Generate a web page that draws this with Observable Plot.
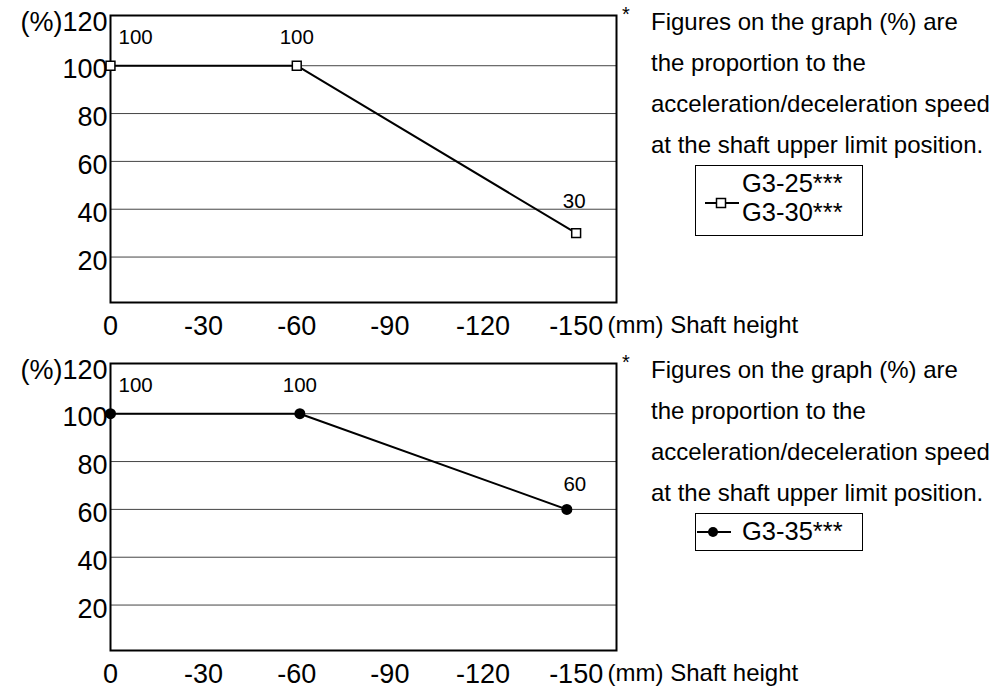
<!DOCTYPE html>
<html><head><meta charset="utf-8">
<script src="https://cdn.jsdelivr.net/npm/d3@7"></script>
<script src="https://cdn.jsdelivr.net/npm/@observablehq/plot@0.6"></script>
<style>
body{margin:0;background:#fff;font-family:"Liberation Sans",Arial,sans-serif;color:#000}
#root{position:relative;width:1001px;height:689px;overflow:hidden;background:#fff}
.panel{position:absolute;left:0;width:1001px;height:341px}
.panel svg.chart{position:absolute;left:0;top:0}
.note{position:absolute;left:651px;top:1px;font-size:24px;line-height:41px;white-space:nowrap}
.star{position:absolute;left:622px;top:-6px;font-size:20px;line-height:41px}
.legend{position:absolute;left:695px;top:165px;width:168px;border:1px solid #000;box-sizing:border-box;background:#fff}
.legend .sym{position:absolute}
.legend .txt{position:absolute;left:46px;font-size:25.5px;line-height:29px;white-space:nowrap}
</style></head>
<body><div id="root"></div>
<script>
// ---- data ----
const xTicks = [0, -30, -60, -90, -120, -150];
const yTicks = [20, 40, 60, 80, 100, 120];
const shaftTop = [0, -60, -150];
const accelTop = [100, 100, 30];
const shaftBottom = [0, -61, -147];
const accelBottom = [100, 100, 60];
const seriesTop = ["G3-25***", "G3-30***"];
const seriesBottom = ["G3-35***"];
const noteLines = ["Figures on the graph (%) are", "the proportion to the", "acceleration/deceleration speed", "at the shaft upper limit position."];
const xLabel = "(mm) Shaft height";

const FONT = '"Liberation Sans", Arial, sans-serif';

function makePlot(xs, ys, markerOpts, lastLabelOpts) {
  const data = xs.map((x, i) => ({x, y: ys[i], i}));
  const n = data.length;
  const lab = {x: "x", y: "y", text: d => String(d.y), fontSize: 20.5, fill: "#000"};
  const svg = Plot.plot({
    width: 1001, height: 341,
    marginLeft: 110, marginRight: 385, marginTop: 15, marginBottom: 39,
    x: {domain: [0, -163]},
    y: {domain: [1, 121]},
    style: {fontFamily: FONT, fontSize: "27px", color: "#000", background: "transparent", overflow: "visible"},
    marks: [
      Plot.ruleY(yTicks.filter(d => d < 120), {stroke: "#444", strokeWidth: 1}),
      Plot.frame({stroke: "#000", strokeWidth: 2}),
      Plot.axisX({ticks: xTicks, tickSize: 0, tickPadding: 13, tickFormat: d => String(d), label: null, fontSize: 27}),
      Plot.axisY({ticks: yTicks, tickSize: 0, tickPadding: 3, dy: 4, tickFormat: d => d === 120 ? "(%)" + d : String(d), label: null, fontSize: 27}),
      Plot.line(data, {x: "x", y: "y", stroke: "#000", strokeWidth: 2}),
      Plot.dot(data, {x: "x", y: "y", ...markerOpts}),
      Plot.text(data.filter(d => d.i === 0), {...lab, textAnchor: "start", dx: 8, dy: -28}),
      Plot.text(data.filter(d => d.i > 0 && d.i < n - 1), {...lab, textAnchor: "middle", dy: -28}),
      Plot.text(data.filter(d => d.i === n - 1), {...lab, ...lastLabelOpts}),
      Plot.text([xLabel], {text: d => d, frameAnchor: "bottom-right", lineAnchor: "middle", textAnchor: "start", dx: -9, dy: 23, fontSize: 24, fill: "#000"})
    ]
  });
  svg.classList.add("chart");
  return svg;
}

function symbolSvg(kind, w, h, cx) {
  const ns = "http://www.w3.org/2000/svg";
  const s = document.createElementNS(ns, "svg");
  s.setAttribute("width", w); s.setAttribute("height", h);
  const line = document.createElementNS(ns, "line");
  line.setAttribute("x1", 0); line.setAttribute("x2", w);
  line.setAttribute("y1", h / 2); line.setAttribute("y2", h / 2);
  line.setAttribute("stroke", "#000"); line.setAttribute("stroke-width", 2);
  s.appendChild(line);
  if (kind === "square") {
    const r = document.createElementNS(ns, "rect");
    r.setAttribute("x", cx - 4.5); r.setAttribute("y", h / 2 - 4.5);
    r.setAttribute("width", 9); r.setAttribute("height", 9);
    r.setAttribute("fill", "#fff"); r.setAttribute("stroke", "#000"); r.setAttribute("stroke-width", 1.5);
    s.appendChild(r);
  } else {
    const c = document.createElementNS(ns, "circle");
    c.setAttribute("cx", cx); c.setAttribute("cy", h / 2); c.setAttribute("r", 5);
    c.setAttribute("fill", "#000");
    s.appendChild(c);
  }
  return s;
}

function buildPanel(top, xs, ys, markerOpts, lastLabelOpts, series, kind) {
  const p = document.createElement("div");
  p.className = "panel"; p.style.top = top + "px";
  p.appendChild(makePlot(xs, ys, markerOpts, lastLabelOpts));
  const star = document.createElement("div");
  star.className = "star"; star.textContent = "*";
  p.appendChild(star);
  const note = document.createElement("div");
  note.className = "note";
  note.innerHTML = noteLines.map(t => `<div>${t}</div>`).join("");
  p.appendChild(note);
  const lg = document.createElement("div");
  lg.className = "legend";
  const two = series.length > 1;
  lg.style.height = (two ? 71 : 38) + "px";
  const sym = symbolSvg(kind, 34, 14, 16);
  sym.classList.add("sym");
  sym.style.left = (two ? 9 : 1) + "px";
  sym.style.top = (two ? 30 : 11) + "px";
  lg.appendChild(sym);
  const txt = document.createElement("div");
  txt.className = "txt";
  txt.style.top = "3px";
  txt.innerHTML = series.map(t => `<div>${t}</div>`).join("");
  lg.appendChild(txt);
  p.appendChild(lg);
  return p;
}

const root = document.getElementById("root");
root.appendChild(buildPanel(0, shaftTop, accelTop,
  {symbol: "square", r: 5, fill: "#fff", stroke: "#000", strokeWidth: 1.5},
  {textAnchor: "middle", dx: -2, dy: -32}, seriesTop, "square"));
root.appendChild(buildPanel(348, shaftBottom, accelBottom,
  {symbol: "circle", r: 5.5, fill: "#000", stroke: "none"},
  {textAnchor: "middle", dx: 8, dy: -25}, seriesBottom, "circle"));
</script>
</body></html>
